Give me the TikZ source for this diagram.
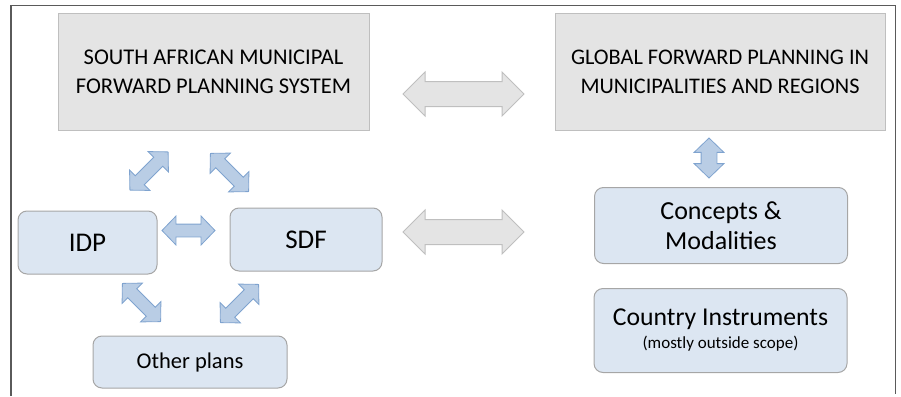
\documentclass[tikz,border=0pt]{standalone}
\usepackage{fontspec}
\setmainfont{Carlito}
\usepackage{tikz}
\usetikzlibrary{shapes.arrows,positioning}
\definecolor{gboxfill}{HTML}{E4E4E4}
\definecolor{gboxline}{HTML}{BFBFBF}
\definecolor{bboxfill}{HTML}{DCE6F2}
\definecolor{bboxline}{HTML}{A6A6A6}
\definecolor{barrowfill}{HTML}{B9CDE5}
\definecolor{barrowline}{HTML}{7FA3CF}
\definecolor{frameline}{HTML}{5A5A5A}

\tikzset{
  graybox/.style={rectangle, draw=gboxline, fill=gboxfill, line width=1pt, align=center, inner sep=0pt},
  bluebox/.style={rectangle, rounded corners=9pt, draw=bboxline, fill=bboxfill, line width=1pt, align=center, inner sep=0pt},
  grayarrow/.style={double arrow, draw=gboxline, fill=gboxfill, line width=1pt, inner xsep=0pt, inner ysep=12pt,
    minimum height=121pt, double arrow head extend=9.5pt, double arrow tip angle=90},
  bluearrow/.style={double arrow, draw=barrowline, fill=barrowfill, line width=0.8pt, inner xsep=0pt, inner ysep=6pt,
    double arrow head extend=8pt, double arrow tip angle=92}
}

\begin{document}
\begin{tikzpicture}[x=1pt, y=-1pt]
  \useasboundingbox (0,0) rectangle (901,396);
  % frame, open at the bottom
  \draw[frameline, line width=1.5pt] (11,396) -- (11,5.5) -- (895.5,5.5) -- (895.5,394);

  % top row
  \node[graybox, minimum width=311pt, minimum height=116pt, font=\fontsize{22.5}{29}\selectfont] (safps) at (213.5,72)
    {SOUTH AFRICAN MUNICIPAL\\FORWARD PLANNING SYSTEM};
  \node[graybox, minimum width=330pt, minimum height=116pt, font=\fontsize{22.3}{29}\selectfont] (gfp) at (720,72)
    {GLOBAL FORWARD PLANNING IN\\MUNICIPALITIES AND REGIONS};

  % local plans
  \node[bluebox, minimum width=139pt, minimum height=63pt, font=\fontsize{27}{32}\selectfont] (idp) at (87.5,242.5) {IDP};
  \node[bluebox, minimum width=152pt, minimum height=63pt, font=\fontsize{27}{32}\selectfont] (sdf) at (306,239.5) {SDF};
  \node[bluebox, minimum width=194pt, minimum height=52pt, font=\fontsize{22.5}{26}\selectfont] (other) at (190,362) {Other plans};

  % global side
  \node[bluebox, minimum width=253pt, minimum height=76pt, font=\fontsize{26}{30}\selectfont] (concepts) at (721,225.5)
    {Concepts \&\\Modalities};
  \node[bluebox, minimum width=253pt, minimum height=84pt, font=\fontsize{25.7}{23}\selectfont] (country) at (720.5,330.5)
    {Country Instruments\\{\fontsize{17}{23}\selectfont (mostly outside scope)}};

  % links
  \node[grayarrow] (link1) at (463.5,94) {};
  \node[grayarrow] (link2) at (463.5,232) {};
  \node[bluearrow, minimum height=53pt] (idpsdf) at (188.5,230.5) {};
  \node[bluearrow, minimum height=40pt, inner ysep=7.5pt, double arrow head extend=7pt, rotate=90] (gfpcon) at (709,158) {};
  \node[bluearrow, minimum height=54pt, rotate=45] (saidp) at (149,171) {};
  \node[bluearrow, minimum height=54pt, rotate=-45] (sasdf) at (229.5,172.5) {};
  \node[bluearrow, minimum height=54pt, rotate=-45] (idpoth) at (141.5,302.5) {};
  \node[bluearrow, minimum height=54pt, rotate=45] (sdfoth) at (239.5,303.5) {};
\end{tikzpicture}
\end{document}
